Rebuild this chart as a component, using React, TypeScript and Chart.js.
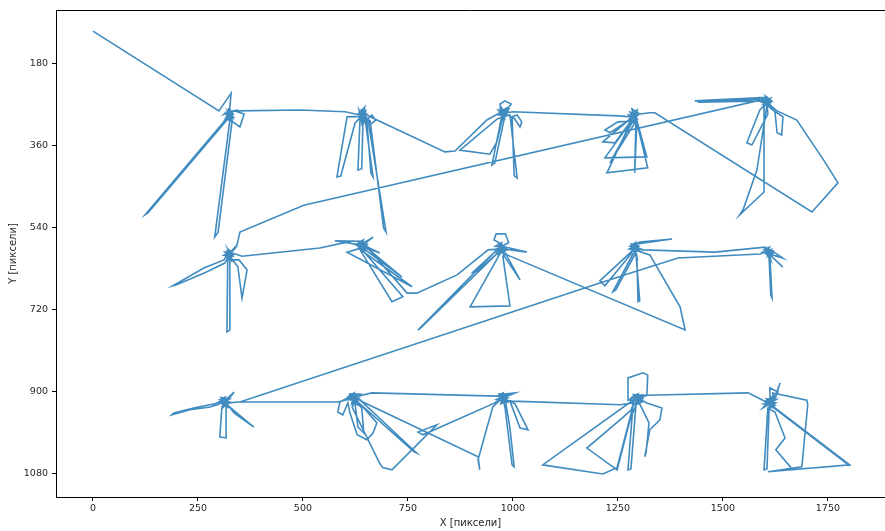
import React, { useEffect, useRef } from 'react';
import { Chart, registerables } from 'chart.js';

Chart.register(...registerables);

// Gaze scan path (X, Y in screen pixels)
const startSaccade: number[][] = [[0, 108]];

const topCol1: number[][] = [
  [300, 283], [329, 244], [326, 274],
  [319, 287], [331, 296], [321, 282], [334, 290], [316, 299], [328, 305], [322, 292], [336, 283],
  [313, 290], [327, 280], [331, 301], [318, 295], [326, 288], [333, 298], [320, 303],
  [323, 289], [327, 293], [320, 297], [330, 287], [325, 300], [317, 289], [332, 294], [322, 285],
  [338, 283], [360, 290], [350, 318], [333, 307], [326, 296],
  [317, 301], [124, 511], [131, 507], [319, 303],
  [324, 296], [331, 290], [318, 286],
  [326, 303], [290, 560], [298, 549], [331, 307],
  [321, 294], [329, 290], [324, 284],
  [343, 283], [493, 281], [600, 285],
];

const topCol2: number[][] = [
  [636, 292], [648, 283], [640, 303], [647, 275], [633, 288], [652, 297], [641, 310], [645, 280],
  [637, 298], [650, 290], [642, 315], [634, 282], [648, 305], [640, 287], [646, 296],
  [642, 290], [645, 300], [639, 279], [647, 308], [638, 293], [644, 286], [641, 305], [649, 295],
  [605, 296], [581, 428], [590, 426], [624, 310],
  [640, 294], [645, 290], [638, 300],
  [636, 299], [631, 413], [640, 410], [643, 303],
  [648, 301], [667, 428], [662, 420], [652, 303],
  [664, 292], [673, 303], [662, 312], [650, 299],
  [655, 303], [698, 549], [692, 540], [660, 305],
  [643, 292], [648, 296], [641, 284],
  [660, 296], [838, 373], [862, 371], [938, 303],
];

const topCol3: number[][] = [
  [969, 287], [983, 278], [974, 294], [988, 285], [965, 281], [979, 297], [972, 275],
  [985, 291], [968, 292], [981, 283], [976, 301], [990, 279], [971, 284], [978, 289],
  [975, 286], [979, 291], [972, 280], [983, 288], [977, 295], [970, 289], [981, 279], [974, 284],
  [969, 268], [981, 261], [996, 268], [983, 283],
  [974, 292], [950, 402], [957, 397], [981, 294],
  [962, 301], [874, 369], [945, 378], [962, 351], [976, 296],
  [993, 292], [1010, 430], [1003, 425], [998, 296],
  [1010, 292], [1021, 307], [1017, 318], [1003, 299],
  [976, 287], [983, 283], [972, 290],
  [1000, 285], [1250, 294], [1283, 296],
];

const topCol4: number[][] = [
  [1283, 290], [1295, 282], [1286, 300], [1297, 293], [1279, 286], [1291, 305], [1284, 279],
  [1299, 288], [1281, 297], [1293, 284], [1288, 310], [1276, 292], [1295, 299], [1286, 287],
  [1287, 290], [1291, 296], [1284, 284], [1293, 301], [1289, 288], [1282, 298], [1294, 292], [1287, 305],
  [1250, 307], [1219, 325], [1231, 331], [1281, 301],
  [1276, 303], [1214, 351], [1243, 353], [1286, 299],
  [1283, 303], [1224, 419], [1321, 408], [1293, 301],
  [1286, 305], [1231, 397], [1290, 310],
  [1281, 307], [1219, 386], [1319, 384], [1295, 303],
  [1293, 305], [1290, 419], [1295, 310],
  [1288, 294], [1293, 287], [1284, 292],
  [1326, 287], [1338, 287], [1712, 505], [1774, 441], [1740, 391], [1676, 303], [1629, 283],
];

const topCol5: number[][] = [
  [1600, 261], [1614, 255], [1605, 270], [1594, 257], [1611, 266], [1602, 251], [1617, 262],
  [1597, 268], [1608, 258], [1591, 263], [1613, 272], [1604, 254], [1609, 265], [1599, 259],
  [1604, 260], [1608, 264], [1601, 256], [1610, 258], [1603, 267], [1598, 262], [1612, 260], [1606, 253],
  [1433, 261], [1590, 257], [1440, 264], [1600, 261], [1607, 263],
  [1588, 281], [1557, 353], [1569, 358], [1607, 290], [1605, 264],
  [1598, 274], [1598, 461], [1540, 511], [1548, 500], [1581, 413], [1605, 270],
  [1619, 281], [1643, 296], [1640, 336], [1629, 331], [1624, 285],
  [1602, 259], [1610, 262], [1604, 256],
  [502, 490], [350, 549], [343, 577], [326, 595],
];

const midCol1: number[][] = [
  [319, 599], [331, 590], [324, 608], [336, 597], [315, 593], [328, 604], [321, 586],
  [333, 602], [312, 600], [326, 593], [330, 612], [318, 605], [335, 588], [322, 596],
  [325, 597], [328, 601], [321, 592], [330, 596], [323, 605], [318, 598], [332, 600], [326, 589],
  [312, 610], [264, 628], [190, 667], [198, 665], [269, 637], [314, 617],
  [321, 606], [319, 768], [326, 764], [326, 610],
  [348, 610], [367, 632], [355, 694], [345, 625],
  [326, 602], [321, 597], [329, 594],
  [355, 602], [540, 584], [605, 571],
];

const midCol2: number[][] = [
  [636, 579], [648, 572], [640, 588], [652, 580], [630, 574], [644, 566], [637, 584],
  [655, 575], [633, 582], [646, 590], [641, 570], [628, 578], [650, 585], [639, 575],
  [640, 577], [644, 581], [637, 572], [647, 576], [641, 585], [634, 579], [649, 580], [642, 569],
  [576, 568], [636, 577],
  [667, 560], [643, 577],
  [683, 595], [645, 582],
  [605, 593], [760, 669], [640, 590],
  [650, 582], [736, 648], [645, 586],
  [636, 588], [712, 702], [738, 691], [648, 595],
  [640, 579], [645, 574],
  [748, 683], [771, 683], [867, 643], [941, 588],
];

const midCol3: number[][] = [
  [964, 586], [978, 578], [969, 593], [985, 584], [958, 580], [973, 572], [966, 597],
  [981, 590], [961, 589], [975, 582], [988, 588], [968, 576], [979, 596], [971, 585],
  [971, 584], [975, 588], [968, 579], [978, 583], [972, 592], [965, 586], [980, 587], [973, 576],
  [955, 566], [960, 553], [982, 553], [990, 572], [974, 580],
  [1033, 593], [976, 586],
  [962, 588], [774, 764], [783, 757], [966, 593],
  [957, 593], [905, 637], [915, 635], [964, 595],
  [969, 597], [898, 713], [993, 711], [976, 602],
  [983, 597], [1017, 654], [981, 604],
  [971, 586], [976, 590], [967, 582],
  [986, 599], [1410, 764], [1398, 713], [1326, 599],
];

const midCol4: number[][] = [
  [1283, 586], [1296, 578], [1288, 595], [1302, 586], [1279, 580], [1292, 572], [1285, 591],
  [1298, 590], [1277, 586], [1290, 581], [1294, 599], [1282, 575], [1300, 580], [1287, 588],
  [1289, 584], [1293, 588], [1286, 579], [1296, 583], [1290, 592], [1283, 585], [1298, 586], [1291, 576],
  [1302, 571], [1379, 564], [1295, 575],
  [1281, 593], [1207, 656], [1219, 667], [1283, 595],
  [1286, 597], [1238, 680], [1245, 676], [1290, 599],
  [1293, 597], [1302, 700], [1298, 702], [1295, 599],
  [1288, 586], [1293, 582],
  [1310, 588], [1481, 593], [1600, 582],
];

const midCol5: number[][] = [
  [1602, 595], [1615, 588], [1607, 602], [1620, 595], [1598, 588], [1611, 582], [1604, 598],
  [1617, 600], [1596, 593], [1609, 591], [1613, 607], [1601, 584], [1619, 590], [1606, 596],
  [1606, 593], [1610, 597], [1603, 588], [1613, 592], [1607, 601], [1600, 594], [1615, 596], [1608, 585],
  [1643, 606], [1610, 597], [1643, 626], [1612, 599],
  [1612, 604], [1617, 694], [1614, 688], [1610, 606],
  [1605, 595], [1611, 590],
  [1588, 597], [1393, 606], [1286, 637], [1207, 661], [350, 922],
];

const botCol1: number[][] = [
  [307, 924], [319, 916], [312, 932], [324, 922], [302, 917], [315, 911], [309, 928],
  [322, 930], [300, 923], [316, 920], [326, 915], [305, 912], [318, 935], [311, 919],
  [312, 921], [316, 925], [309, 916], [319, 920], [313, 929], [306, 922], [321, 924], [314, 913],
  [302, 926], [279, 933], [231, 939], [188, 950], [193, 946], [240, 935], [290, 926],
  [319, 915], [336, 900], [321, 918],
  [307, 933], [302, 999], [319, 1001], [317, 935],
  [326, 933], [383, 977], [336, 946], [319, 926],
  [312, 920], [318, 925],
  [343, 922], [583, 922],
];

const botCol2: number[][] = [
  [614, 915], [627, 907], [619, 922], [633, 913], [609, 909], [622, 902], [616, 927],
  [630, 920], [606, 916], [624, 911], [636, 905], [612, 904], [628, 925], [619, 912],
  [620, 913], [624, 917], [617, 908], [627, 912], [621, 921], [614, 914], [629, 916], [622, 905],
  [588, 922], [583, 944], [595, 950], [607, 924],
  [612, 946], [629, 994], [652, 1005], [667, 990], [676, 968], [643, 933],
  [624, 926], [631, 977], [645, 990], [640, 935],
  [619, 913], [626, 909],
  [771, 1034], [764, 1031], [626, 918],
  [617, 933], [683, 1057], [690, 1066], [712, 1071], [819, 972], [774, 988], [786, 994], [957, 924],
];

const botCol3: number[][] = [
  [969, 915], [983, 907], [974, 922], [988, 913], [964, 909], [977, 902], [971, 926],
  [985, 920], [962, 916], [979, 911], [990, 905], [967, 904], [981, 925], [975, 913],
  [975, 913], [979, 917], [972, 908], [982, 912], [976, 921], [969, 914], [984, 916], [977, 905],
  [1005, 902], [976, 913],
  [981, 933], [998, 1060], [1003, 1064], [993, 980], [983, 924],
  [993, 920], [1017, 979], [1036, 983], [1005, 926],
  [974, 913], [980, 909],
  [962, 909], [664, 902], [624, 911], [617, 915], [631, 913],
  [643, 922], [917, 1042], [921, 1071], [917, 1049], [938, 979], [952, 933], [969, 918],
  [976, 913], [981, 918],
  [998, 920], [1255, 928], [1286, 924],
];

const botCol4: number[][] = [
  [1290, 918], [1303, 910], [1295, 924], [1309, 915], [1284, 911], [1298, 904], [1292, 928],
  [1306, 922], [1282, 918], [1300, 913], [1311, 907], [1287, 906], [1303, 927], [1296, 916],
  [1295, 915], [1299, 919], [1292, 910], [1302, 914], [1296, 923], [1289, 916], [1304, 918], [1297, 907],
  [1274, 918], [1274, 869], [1310, 858], [1321, 863], [1319, 907], [1300, 915],
  [1319, 924], [1355, 935], [1350, 961], [1326, 983], [1314, 1042], [1317, 1034], [1324, 968], [1302, 926],
  [1286, 926], [1274, 1071], [1281, 1069], [1293, 928],
  [1283, 920], [1071, 1060], [1214, 1080], [1248, 1066], [1288, 924],
  [1281, 940], [1255, 961], [1176, 1023], [1248, 1071], [1279, 961], [1295, 924],
  [1293, 918], [1300, 912],
  [1319, 907], [1560, 902], [1595, 918],
];

const botCol5: number[][] = [
  [1607, 926], [1620, 918], [1612, 933], [1626, 924], [1601, 920], [1615, 913], [1609, 937],
  [1623, 930], [1598, 926], [1617, 922], [1628, 916], [1604, 915], [1620, 936], [1613, 923],
  [1612, 923], [1616, 927], [1609, 918], [1619, 922], [1613, 931], [1606, 924], [1621, 926], [1614, 915],
  [1595, 935], [1612, 926],
  [1624, 913], [1636, 880], [1626, 911],
  [1612, 911], [1612, 891], [1631, 900], [1617, 913],
  [1619, 902], [1700, 918], [1702, 928], [1688, 1064], [1607, 1075], [1802, 1060], [1617, 930],
  [1802, 1062], [1619, 933],
  [1607, 935], [1598, 1071], [1605, 1069], [1610, 937],
  [1624, 944], [1648, 1001], [1626, 1027], [1662, 1066],
];

const xTicks = [0, 250, 500, 750, 1000, 1250, 1500, 1750];
const yTicks = [180, 360, 540, 720, 900, 1080];
const xLabel = 'X [пиксели]';
const yLabel = 'Y [пиксели]';

const scanPath = [
  ...startSaccade,
  ...topCol1, ...topCol2, ...topCol3, ...topCol4, ...topCol5,
  ...midCol1, ...midCol2, ...midCol3, ...midCol4, ...midCol5,
  ...botCol1, ...botCol2, ...botCol3, ...botCol4, ...botCol5,
];

const FONT = 'DejaVu Sans';
const TEXT = '#262626';

const frame = {
  id: 'frame',
  afterDraw(chart: any) {
    const { ctx, chartArea } = chart;
    ctx.save();
    ctx.strokeStyle = '#000';
    ctx.lineWidth = 1;
    ctx.beginPath();
    ctx.moveTo(chartArea.left, chartArea.top + 0.5);
    ctx.lineTo(chartArea.right, chartArea.top + 0.5);
    ctx.stroke();
    ctx.restore();
  },
};

export default function App() {
  const ref = useRef<HTMLCanvasElement | null>(null);

  useEffect(() => {
    if (!ref.current) return;
    const chart = new Chart(ref.current, {
      type: 'scatter',
      data: {
        datasets: [
          {
            data: scanPath.map(([x, y]) => ({ x, y })),
            showLine: true,
            borderColor: 'rgba(31,119,180,0.85)',
            borderWidth: 1.6,
            pointRadius: 0,
            pointHoverRadius: 0,
            tension: 0,
            fill: false,
          },
        ],
      },
      options: {
        animation: false,
        responsive: false,
        devicePixelRatio: 1,
        layout: { padding: { top: 10, right: 0, left: 0, bottom: 0 } },
        plugins: { legend: { display: false }, tooltip: { enabled: false } },
        scales: {
          x: {
            type: 'linear',
            min: -88,
            max: 1886,
            afterBuildTicks: (s: any) => {
              s.ticks = xTicks.map((v) => ({ value: v }));
            },
            afterFit: (s: any) => {
              s.height = 34;
            },
            grid: { drawOnChartArea: false, drawTicks: true, tickLength: 4, color: '#000' },
            border: { display: true, color: '#000', width: 1 },
            ticks: {
              font: { family: FONT, size: 9.5 },
              color: TEXT,
              padding: 2,
              maxRotation: 0,
              callback: (v: any) => String(v),
            },
            title: { display: true, text: xLabel, font: { family: FONT, size: 10 }, color: TEXT, padding: { top: 0, bottom: 2 } },
          },
          y: {
            type: 'linear',
            reverse: true,
            min: 61.5,
            max: 1130.5,
            afterBuildTicks: (s: any) => {
              s.ticks = yTicks.map((v) => ({ value: v }));
            },
            afterFit: (s: any) => {
              s.width = 56;
            },
            grid: { drawOnChartArea: false, drawTicks: true, tickLength: 4, color: '#000' },
            border: { display: true, color: '#000', width: 1 },
            ticks: {
              font: { family: FONT, size: 9.5 },
              color: TEXT,
              padding: 4,
              callback: (v: any) => String(v),
            },
            title: { display: true, text: yLabel, font: { family: FONT, size: 10 }, color: TEXT, padding: { top: 7, bottom: 0 } },
          },
        },
      },
      plugins: [frame],
    });
    return () => chart.destroy();
  }, []);

  return (
    <div style={{ position: 'absolute', left: 0, top: 0, width: 885, height: 531, background: '#fff' }}>
      <canvas ref={ref} width={885} height={531} style={{ display: 'block', width: 885, height: 531 }} />
    </div>
  );
}
